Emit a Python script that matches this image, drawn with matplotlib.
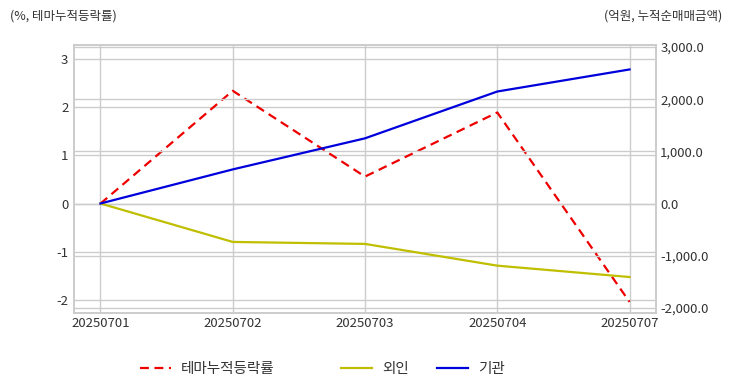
import matplotlib
matplotlib.use("Agg")
import matplotlib.pyplot as plt
from matplotlib.ticker import FuncFormatter

plt.rcParams['font.family'] = ['Noto Sans CJK KR', 'DejaVu Sans']
plt.rcParams['axes.unicode_minus'] = False

dates = ["20250701", "20250702", "20250703", "20250704", "20250707"]
theme_rate = [0.0, 2.34, 0.56, 1.89, -2.04]
foreign = [0.0, -737, -775, -1192, -1410]
institution = [0.0, 654, 1250, 2148, 2571]

left_ticks = [-2, -1, 0, 1, 2, 3]
right_ticks = [-2000, -1000, 0, 1000, 2000, 3000]

fig = plt.figure(figsize=(7.32, 3.92), dpi=100)
ax = fig.add_axes([74/732, 1-313/392, (656-74)/732, (313-45)/392])
ax2 = ax.twinx()

x = list(range(len(dates)))
grid_c = '#cccccc'
tc = '#333333'

l1, = ax.plot(x, theme_rate, color='#ee0000', ls=(0, (4, 2.5)), lw=1.6, label='테마누적등락률')
l2, = ax2.plot(x, foreign, color='#bfbf00', lw=1.6, label='외인')
l3, = ax2.plot(x, institution, color='#0000dd', lw=1.6, label='기관')

ax.set_xlim(-0.2, 4.2)
ax.set_ylim(-2.27, 3.29)
ax2.set_ylim(-2100, 3040)
ax.set_xticks(x)
ax.set_xticklabels(dates)
ax.set_yticks(left_ticks)
ax2.set_yticks(right_ticks)
ax2.yaxis.set_major_formatter(FuncFormatter(lambda v, p: f"{v:,.1f}"))

ax.grid(True, color=grid_c, lw=1)
ax2.grid(True, axis='y', color=grid_c, lw=1)
ax.set_axisbelow(True)
ax2.set_axisbelow(True)

for a in (ax, ax2):
    for s in a.spines.values():
        s.set_color(grid_c)
        s.set_linewidth(1.2)
    a.tick_params(length=0, labelsize=9.5, colors=tc, pad=6)
ax.tick_params(axis='y', pad=4)
ax2.tick_params(axis='y', pad=3)
ax.tick_params(axis='x', pad=3)

fig.text(10/732, 1-16/392, '(%, 테마누적등락률)', fontsize=9, color=tc, va='center', ha='left')
fig.text(722/732, 1-16/392, '(억원, 누적순매매금액)', fontsize=9, color=tc, va='center', ha='right')

for h, xs in ((l1, 140), (l2, 341), (l3, 437)):
    leg = fig.legend(handles=[h], loc='center left', bbox_to_anchor=(xs/732, 1-369/392),
                     frameon=False, fontsize=10.5, handlelength=2.1, handletextpad=0.7,
                     borderpad=0, borderaxespad=0, labelcolor=tc)

fig.savefig('out.png', dpi=100)
